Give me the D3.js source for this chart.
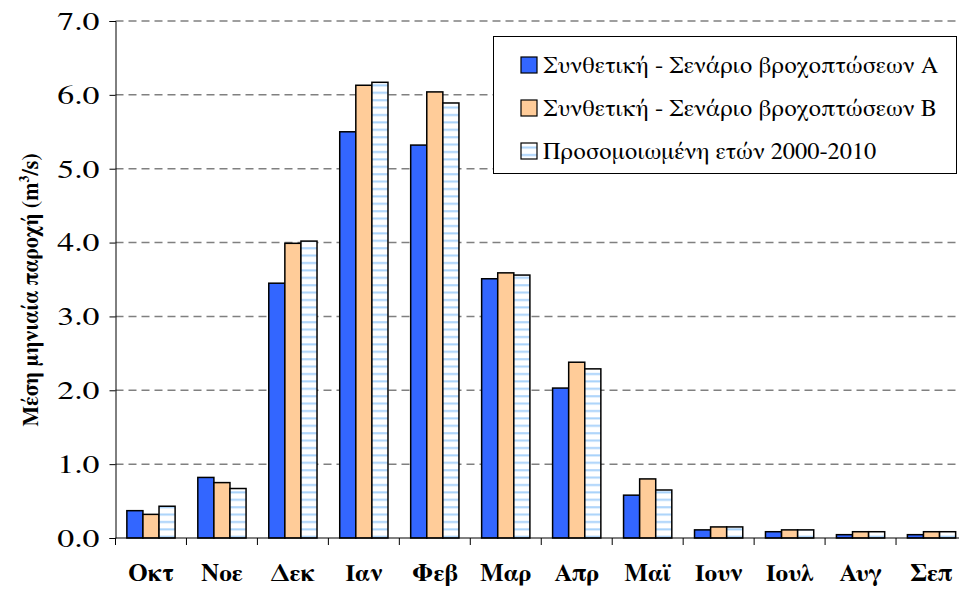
<!DOCTYPE html>
<html>
<head>
<meta charset="utf-8">
<script src="https://cdn.jsdelivr.net/npm/d3@7"></script>
<style>
  body { margin: 0; background: #fff; }
  svg { display: block; font-family: 'FreeSerif', 'Liberation Serif', serif; }
</style>
</head>
<body>
<div id="chart"></div>
<script>
'use strict'

const months = ['Οκτ', 'Νοε', 'Δεκ', 'Ιαν', 'Φεβ', 'Μαρ', 'Απρ', 'Μαϊ', 'Ιουν', 'Ιουλ', 'Αυγ', 'Σεπ']
const seriesNames = [
  'Συνθετική - Σενάριο βροχοπτώσεων Α',
  'Συνθετική - Σενάριο βροχοπτώσεων Β',
  'Προσομοιωμένη ετών 2000-2010'
]
const scenarioA = [0.37, 0.82, 3.45, 5.50, 5.32, 3.51, 2.03, 0.58, 0.11, 0.085, 0.045, 0.045]
const scenarioB = [0.32, 0.75, 3.99, 6.13, 6.04, 3.59, 2.38, 0.80, 0.15, 0.11, 0.085, 0.085]
const simulated = [0.43, 0.67, 4.02, 6.17, 5.89, 3.56, 2.29, 0.65, 0.15, 0.11, 0.085, 0.085]
const yTicks = [0, 1, 2, 3, 4, 5, 6, 7]

// widen text a little, the original looks horizontally stretched
const stretch = function(sel, k){
  sel.each(function(){
    const w = this.getComputedTextLength()
    d3.select(this)
      .attr('textLength', w * k)
      .attr('lengthAdjust', 'spacingAndGlyphs')
  })
}

const chart_it = function(){
  const width = 959
  const height = 590
  const left = 115.5
  const right = 967
  const top = 21
  const bottom = 538

  let svg = d3.select('#chart')
    .append('svg')
    .attr('width', width)
    .attr('height', height)

  let defs = svg.append('defs')
  let pat = defs.append('pattern')
    .attr('id', 'stripes')
    .attr('patternUnits', 'userSpaceOnUse')
    .attr('width', 8)
    .attr('height', 7.4)
  pat.append('rect').attr('width', 8).attr('height', 7.4).attr('fill', '#fff')
  pat.append('rect').attr('y', 3).attr('width', 8).attr('height', 2).attr('fill', '#a8d2fa')

  let x = d3.scaleBand()
    .domain(months)
    .range([left, right])
    .paddingInner(0.32)
    .paddingOuter(0.16)

  let x1 = d3.scaleBand()
    .domain([0, 1, 2])
    .range([0, x.bandwidth()])

  let y = d3.scaleLinear()
    .domain([0, 7])
    .range([bottom, top])

  // gridlines
  svg.append('g')
    .selectAll('line')
    .data(yTicks.filter(d => d > 0))
    .enter()
    .append('line')
    .attr('x1', left)
    .attr('x2', width)
    .attr('y1', d => y(d))
    .attr('y2', d => y(d))
    .attr('stroke', '#808080')
    .attr('stroke-width', 1.5)
    .attr('stroke-dasharray', '8,5')

  // y axis
  let yAxis = svg.append('g')
    .attr('transform', 'translate(' + left + ',0)')
    .call(d3.axisLeft(y).tickValues(yTicks).tickFormat(d3.format('.1f')).tickSize(6).tickPadding(10))
  yAxis.select('.domain').attr('stroke', '#000').attr('stroke-width', 1)
  yAxis.selectAll('.tick line').attr('stroke', '#000')
  yAxis.selectAll('text')
    .attr('font-size', 26)
    .attr('font-family', "'FreeSerif', serif")
    .attr('fill', '#000')
    .call(stretch, 1.3)

  // bars
  const series = [scenarioA, scenarioB, simulated]
  const fills = ['#3366ff', '#ffcc99', 'url(#stripes)']

  let groups = svg.append('g')
    .selectAll('g')
    .data(months)
    .enter()
    .append('g')
    .attr('transform', d => 'translate(' + x(d) + ',0)')

  groups.selectAll('rect')
    .data((m, i) => series.map((s, k) => ({ k: k, v: s[i] })))
    .enter()
    .append('rect')
    .attr('x', d => x1(d.k))
    .attr('width', x1.bandwidth())
    .attr('y', d => y(d.v))
    .attr('height', d => y(0) - y(d.v))
    .attr('fill', d => fills[d.k])
    .attr('stroke', '#000')
    .attr('stroke-width', 1.5)

  // x axis
  let xAxisG = svg.append('g')
  xAxisG.append('line')
    .attr('x1', left)
    .attr('x2', width)
    .attr('y1', bottom)
    .attr('y2', bottom)
    .attr('stroke', '#000')
  xAxisG.selectAll('.tk')
    .data(months)
    .enter()
    .append('line')
    .attr('x1', d => x(d) - x.step() * x.paddingInner() / 2)
    .attr('x2', d => x(d) - x.step() * x.paddingInner() / 2)
    .attr('y1', bottom)
    .attr('y2', bottom + 7)
    .attr('stroke', '#000')
  xAxisG.selectAll('text')
    .data(months)
    .enter()
    .append('text')
    .attr('x', d => x(d) + x.bandwidth() / 2)
    .attr('y', 581)
    .attr('text-anchor', 'middle')
    .attr('font-size', 24)
    .attr('font-weight', 'bold')
    .text(d => d)
    .call(stretch, 1.04)

  // y title
  let title = svg.append('text')
    .attr('transform', 'translate(38,290) rotate(-90)')
    .attr('text-anchor', 'middle')
    .attr('font-size', 22)
    .attr('font-weight', 'bold')
  title.append('tspan').text('Μέση μηνιαία παροχή (m')
  title.append('tspan').attr('dy', -9).attr('font-size', 14).text('3')
  title.append('tspan').attr('dy', 9).text('/s)')

  // legend
  let legend = svg.append('g')
  legend.append('rect')
    .attr('x', 493.5)
    .attr('y', 36.5)
    .attr('width', 463)
    .attr('height', 137)
    .attr('fill', '#fff')
    .attr('stroke', '#000')
    .attr('stroke-width', 1)

  let items = legend.selectAll('g')
    .data(seriesNames)
    .enter()
    .append('g')
    .attr('transform', (d, i) => 'translate(521,' + (65 + i * 43) + ')')

  items.append('rect')
    .attr('x', 0)
    .attr('y', -8)
    .attr('width', 16)
    .attr('height', 16)
    .attr('fill', (d, i) => fills[i])
    .attr('stroke', '#000')
    .attr('stroke-width', 1.2)

  items.append('text')
    .attr('x', 22)
    .attr('y', 8)
    .attr('font-size', 24)
    .text(d => d)
    .call(stretch, 1.015)
}

chart_it()
</script>
</body>
</html>
